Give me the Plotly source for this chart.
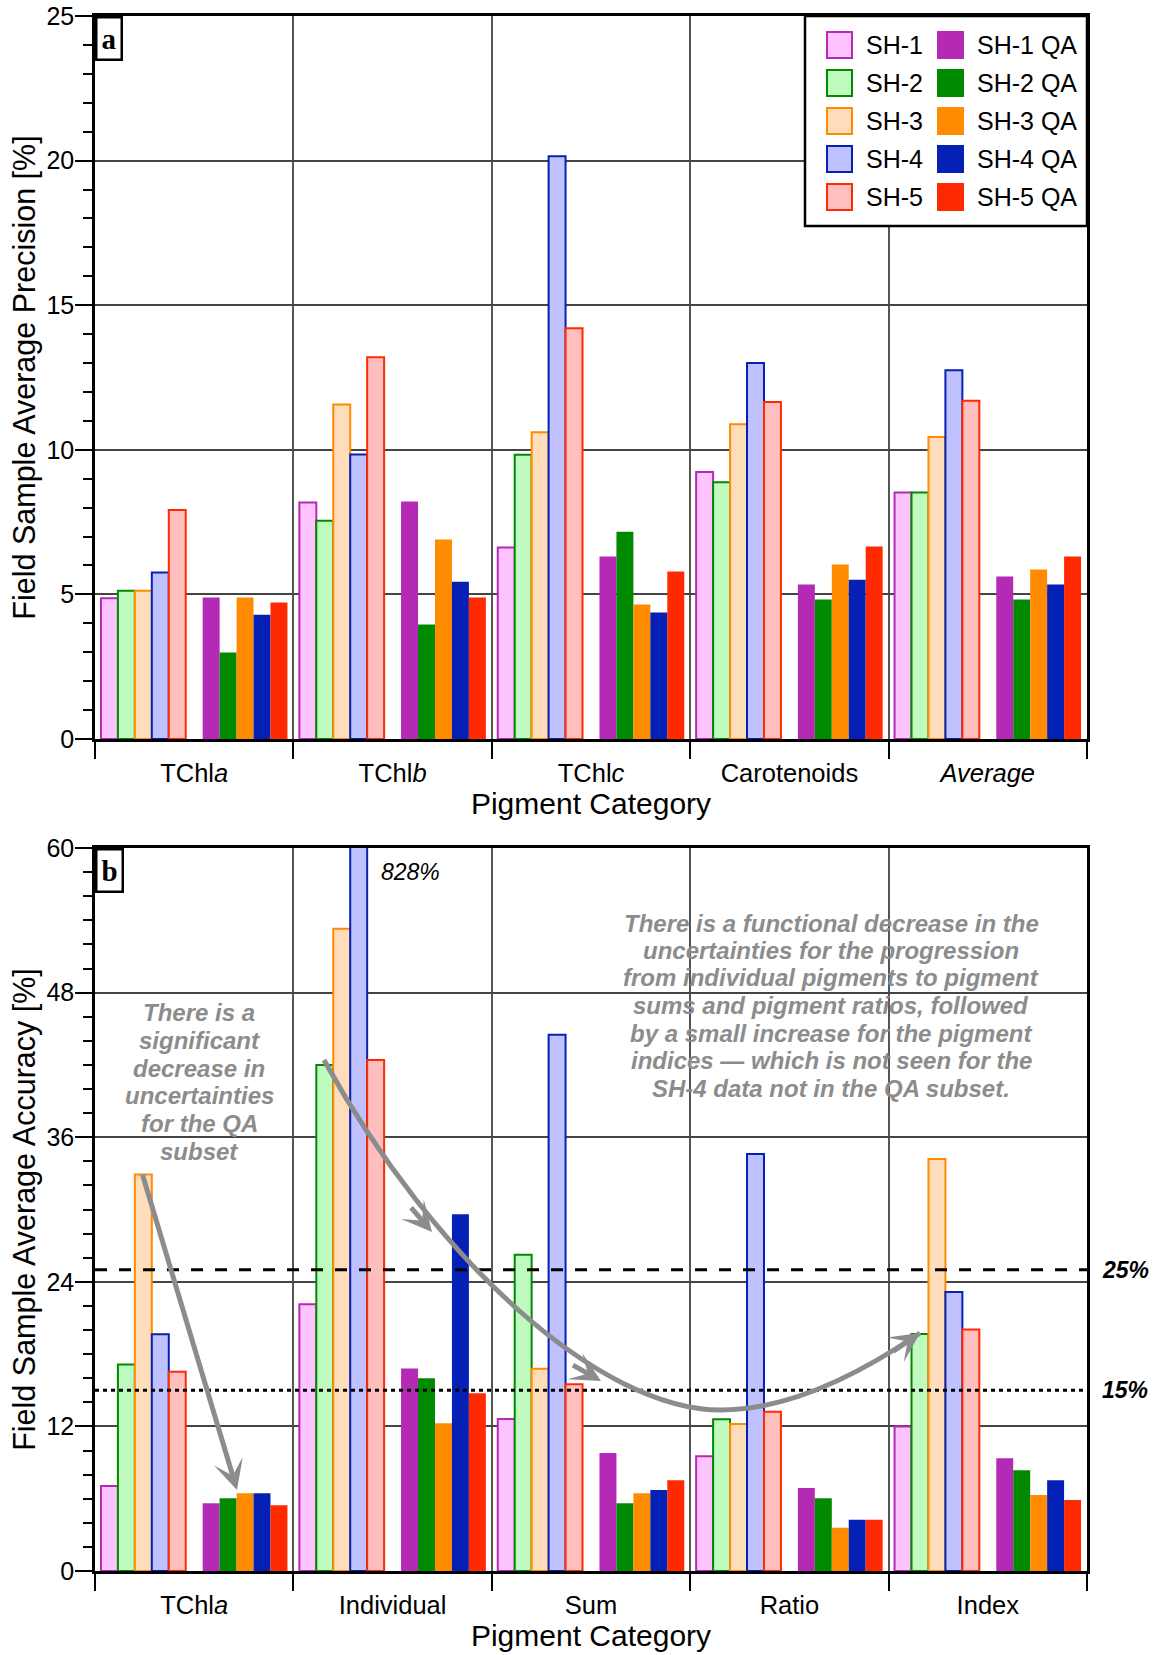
import plotly.graph_objects as go

# ---------------- data ----------------
series = ["SH-1", "SH-2", "SH-3", "SH-4", "SH-5"]
qa_series = ["SH-1 QA", "SH-2 QA", "SH-3 QA", "SH-4 QA", "SH-5 QA"]
edge_colors = ["#B42AB4", "#008A00", "#FF8C00", "#0520B4", "#FF2A00"]
fill_colors = ["#FFC4FF", "#BFFABF", "#FFDDBB", "#BFC2FF", "#FFBFBF"]

cats_a = ["TChl<i>a</i>", "TChl<i>b</i>", "TChl<i>c</i>", "Carotenoids", "<i>Average</i>"]
cats_b = ["TChl<i>a</i>", "Individual", "Sum", "Ratio", "Index"]

# panel a: precision [%]
prec_sh1 = [4.87, 8.18, 6.62, 9.23, 8.52]
prec_sh2 = [5.13, 7.55, 9.83, 8.88, 8.52]
prec_sh3 = [5.13, 11.57, 10.61, 10.88, 10.44]
prec_sh4 = [5.76, 9.84, 20.15, 13.0, 12.75]
prec_sh5 = [7.92, 13.2, 14.2, 11.65, 11.7]
prec_sh1_qa = [4.89, 8.21, 6.31, 5.34, 5.62]
prec_sh2_qa = [2.99, 3.96, 7.17, 4.82, 4.82]
prec_sh3_qa = [4.89, 6.90, 4.65, 6.03, 5.86]
prec_sh4_qa = [4.30, 5.44, 4.37, 5.51, 5.34]
prec_sh5_qa = [4.72, 4.89, 5.79, 6.66, 6.31]

# panel b: accuracy [%]
acc_sh1 = [7.05, 22.13, 12.62, 9.52, 11.99]
acc_sh2 = [17.14, 42.0, 26.25, 12.59, 19.67]
acc_sh3 = [32.9, 53.3, 16.79, 12.2, 34.2]
acc_sh4 = [19.64, 828.0, 44.5, 34.6, 23.15]
acc_sh5 = [16.54, 42.4, 15.5, 13.22, 20.05]
acc_sh1_qa = [5.62, 16.81, 9.79, 6.88, 9.35]
acc_sh2_qa = [6.03, 15.99, 5.62, 6.03, 8.37]
acc_sh3_qa = [6.45, 12.26, 6.45, 3.59, 6.31]
acc_sh4_qa = [6.45, 29.6, 6.72, 4.25, 7.54]
acc_sh5_qa = [5.46, 14.76, 7.54, 4.25, 5.90]

threshold_levels = [25, 15]
threshold_labels = ["25%", "15%"]

left_note = ["There is a", "significant", "decrease in", "uncertainties", "for the QA", "subset"]
right_note = ["There is a functional decrease in the",
              "uncertainties for the progression",
              "from individual pigments to pigment",
              "sums and pigment ratios, followed",
              "by a small increase for the pigment",
              "indices \u2014 which is not seen for the",
              "SH-4 data not in the QA subset."]

prec_main = [prec_sh1, prec_sh2, prec_sh3, prec_sh4, prec_sh5]
prec_qa = [prec_sh1_qa, prec_sh2_qa, prec_sh3_qa, prec_sh4_qa, prec_sh5_qa]
acc_main = [acc_sh1, acc_sh2, acc_sh3, acc_sh4, acc_sh5]
acc_qa = [acc_sh1_qa, acc_sh2_qa, acc_sh3_qa, acc_sh4_qa, acc_sh5_qa]

# ---------------- layout geometry ----------------
W, H = 1157, 1655
ML, MR, MT, MB = 95, 70, 16, 84
PW, PH = W - ML - MR, H - MT - MB
FONT = "Liberation Sans, Arial, Helvetica, sans-serif"
GRAY = "#8C8C8C"


def px(x):
    return (x - ML) / PW


def py(y):
    return (H - MB - y) / PH


dom_a = [py(739), 1.0]
dom_b = [0.0, py(848)]

fig = go.Figure()


def add_panel(cats, main, qa, xa, ya):
    for i in range(5):
        fig.add_trace(go.Bar(x=cats, y=main[i], name=series[i], xaxis=xa, yaxis=ya,
                             marker=dict(color=fill_colors[i],
                                         line=dict(color=edge_colors[i], width=2)),
                             showlegend=False))
    # empty spacer trace separating the two bar groups
    fig.add_trace(go.Bar(x=cats, y=[0] * len(cats), xaxis=xa, yaxis=ya,
                         marker=dict(color="rgba(0,0,0,0)", line=dict(width=0)),
                         showlegend=False, hoverinfo="skip"))
    for i in range(5):
        fig.add_trace(go.Bar(x=cats, y=qa[i], name=qa_series[i], xaxis=xa, yaxis=ya,
                             marker=dict(color=edge_colors[i], line=dict(width=0)),
                             showlegend=False))


add_panel(cats_a, prec_main, prec_qa, "x", "y")
add_panel(cats_b, acc_main, acc_qa, "x2", "y2")


def xax(cats, anchor):
    return dict(type="category", categoryorder="array", categoryarray=cats,
                range=[-0.5, 4.5], anchor=anchor, domain=[0, 1],
                tickson="boundaries", ticks="outside", ticklen=17, tickwidth=2,
                tickcolor="black", showgrid=True, gridcolor="#555555", gridwidth=1.5,
                showline=True, linecolor="black", linewidth=2.5, mirror=True,
                ticklabelstandoff=10,
                tickfont=dict(size=25.5, color="black", family=FONT),
                title=dict(text="Pigment Category", font=dict(size=30, color="black", family=FONT),
                           standoff=4))


def yax(rng, dt, mdt, dom, anchor, title):
    return dict(range=rng, dtick=dt, tick0=0, domain=dom, anchor=anchor,
                ticks="outside", ticklen=17, tickwidth=2, tickcolor="black",
                showgrid=True, gridcolor="#444444", gridwidth=1.5, zeroline=False,
                showline=True, linecolor="black", linewidth=2.5, mirror=True,
                minor=dict(dtick=mdt, tick0=0, ticks="outside", ticklen=9, tickwidth=2,
                           tickcolor="black", showgrid=False),
                ticklabelstandoff=-4,
                tickfont=dict(size=25, color="black", family=FONT),
                title=dict(text=title, font=dict(size=30.5, color="black", family=FONT),
                           standoff=2))


fig.update_layout(
    width=W, height=H,
    margin=dict(l=ML, r=MR, t=MT, b=MB, autoexpand=False),
    paper_bgcolor="white", plot_bgcolor="white",
    font=dict(family=FONT, color="black"),
    barmode="group", bargap=0.06, bargroupgap=0,
    xaxis=xax(cats_a, "y"),
    yaxis=yax([0, 25], 5, 1, dom_a, "x", "Field Sample Average Precision [%]"),
    xaxis2=xax(cats_b, "y2"),
    yaxis2=yax([0, 60], 12, 2, dom_b, "x2", "Field Sample Average Accuracy [%]"),
    showlegend=False,
)

shapes = []
annotations = []

# panel letters
for letter, xr, yr in [("a", "x domain", "y domain"), ("b", "x2 domain", "y2 domain")]:
    annotations.append(dict(text="<b>" + letter + "</b>", xref=xr, yref=yr, x=0, y=1,
                            xanchor="left", yanchor="top", showarrow=False,
                            font=dict(family="Liberation Serif, Times New Roman, serif", size=29,
                                      color="black"),
                            bordercolor="black", borderwidth=2.5, borderpad=4, bgcolor="white"))

# threshold lines in panel b
for lvl, lab, dash in zip(threshold_levels, threshold_labels, ["12px,12px", "4px,4px"]):
    shapes.append(dict(type="line", xref="x2 domain", yref="y2", x0=0, x1=1, y0=lvl, y1=lvl,
                       line=dict(color="black", width=3, dash=dash), layer="above"))
    annotations.append(dict(text="<b><i>" + lab + "</i></b>", xref="paper", yref="y2",
                            x=px(1100), y=lvl, xanchor="left", yanchor="middle",
                            showarrow=False, font=dict(size=23, color="black", family=FONT)))

# 828% label
annotations.append(dict(text="<i>828%</i>", xref="paper", yref="y2", x=px(379), y=58,
                        xanchor="left", yanchor="middle", showarrow=False,
                        font=dict(size=23, color="black", family=FONT)))

# notes
for k, line in enumerate(left_note):
    annotations.append(dict(text="<b><i>" + line + "</i></b>", xref="paper", yref="paper",
                            x=px(199), y=py(1013 + 27.6 * k), xanchor="center", yanchor="middle",
                            showarrow=False, font=dict(size=24, color=GRAY, family=FONT)))
for k, line in enumerate(right_note):
    annotations.append(dict(text="<b><i>" + line + "</i></b>", xref="paper", yref="paper",
                            x=px(831), y=py(923 + 27.5 * k), xanchor="center", yanchor="middle",
                            showarrow=False, font=dict(size=24, color=GRAY, family=FONT)))

# curved arrow path (paper coords)
def P(x, y):
    return f"{px(x):.5f},{py(y):.5f}"


path = ("M " + P(324, 1060) + " C " + P(434, 1260) + " " + P(600, 1410) + " " + P(721, 1410) +
        " C " + P(790, 1410) + " " + P(860, 1374) + " " + P(920, 1333))
shapes.append(dict(type="path", xref="paper", yref="paper", path=path,
                   line=dict(color=GRAY, width=5), layer="above"))


def head(tipx, tipy, dx, dy, length=34):
    n = (dx * dx + dy * dy) ** 0.5
    annotations.append(dict(text="", xref="paper", yref="paper", x=px(tipx), y=py(tipy),
                            ax=-dx / n * length, ay=-dy / n * length, axref="pixel", ayref="pixel",
                            showarrow=True, arrowhead=3, arrowsize=1.0, arrowwidth=5,
                            arrowcolor=GRAY))


head(432, 1232, 43, 50)
head(601, 1381, 37, 21)
head(920, 1333, 54, -37)

# straight arrow in TChla
annotations.append(dict(text="", xref="paper", yref="paper", x=px(237), y=py(1490),
                        ax=142 - 237, ay=1173 - 1490, axref="pixel", ayref="pixel",
                        showarrow=True, arrowhead=3, arrowsize=1.0, arrowwidth=5,
                        arrowcolor=GRAY))

# manual legend (two columns)
shapes.append(dict(type="rect", xref="paper", yref="paper", x0=px(805), x1=px(1087),
                   y0=py(226), y1=py(16), line=dict(color="black", width=2.5),
                   fillcolor="white", layer="above"))
row_y = [45, 83, 121, 159, 197]
for i in range(5):
    yc = row_y[i]
    shapes.append(dict(type="rect", xref="paper", yref="paper", x0=px(827), x1=px(852),
                       y0=py(yc + 13), y1=py(yc - 13), fillcolor=fill_colors[i],
                       line=dict(color=edge_colors[i], width=2), layer="above"))
    shapes.append(dict(type="rect", xref="paper", yref="paper", x0=px(937), x1=px(964),
                       y0=py(yc + 14), y1=py(yc - 14), fillcolor=edge_colors[i],
                       line=dict(width=0), layer="above"))
    annotations.append(dict(text=series[i], xref="paper", yref="paper", x=px(864), y=py(yc),
                            xanchor="left", yanchor="middle", showarrow=False,
                            font=dict(size=25, color="black", family=FONT)))
    annotations.append(dict(text=qa_series[i], xref="paper", yref="paper", x=px(975), y=py(yc),
                            xanchor="left", yanchor="middle", showarrow=False,
                            font=dict(size=25, color="black", family=FONT)))

fig.update_layout(shapes=shapes, annotations=annotations)
fig.write_html("out.html")
